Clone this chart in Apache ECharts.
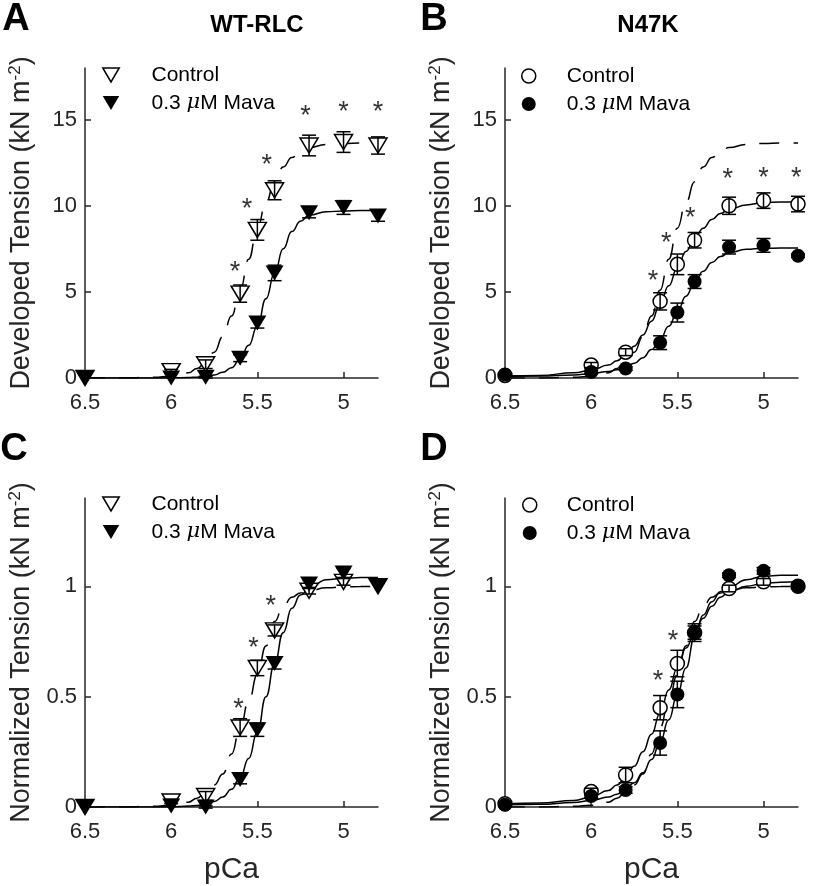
<!DOCTYPE html>
<html>
<head>
<meta charset="utf-8">
<script src="https://cdn.jsdelivr.net/npm/echarts@6/dist/echarts.min.js"></script>
<style>
html, body { margin: 0; padding: 0; background: #fff; }
#main { width: 819px; height: 886px; }
</style>
</head>
<body>
<div id="main"></div>
<script>
// pCa steps of the measurements and of the drawn fit curves
var pCa = [6.5, 6.0, 5.8, 5.6, 5.5, 5.4, 5.2, 5.0, 4.8];
var fitPCa = [6.5, 6.3, 6.1, 6.0, 5.9, 5.85, 5.8, 5.75, 5.7, 5.65, 5.6, 5.55, 5.5, 5.45, 5.4, 5.35, 5.3, 5.25, 5.2, 5.1, 5.0, 4.9, 4.8];
var xTicks = [6.5, 6, 5.5, 5];
var yTicksAbs = [0, 5, 10, 15];
var yTicksNorm = [0, 0.5, 1];

// A: WT-RLC, developed tension
var wtCtrl = [0, 0.4, 0.8, 4.9, 8.6, 10.9, 13.5, 13.7, 13.5];
var wtCtrlErr = [0, 0.1, 0.25, 0.5, 0.6, 0.55, 0.6, 0.6, 0.5];
var wtMava = [0, 0, 0.05, 1.15, 3.2, 6.1, 9.6, 9.9, 9.4];
var wtMavaErr = [0, 0, 0.05, 0.2, 0.3, 0.45, 0.3, 0.4, 0.3];
var fitWtCtrl = [0, 0, 0.04, 0.1, 0.3, 0.55, 0.9, 1.5, 2.4, 3.6, 5.1, 6.9, 8.7, 10.2, 11.4, 12.25, 12.8, 13.15, 13.38, 13.56, 13.62, 13.64, 13.65];
var fitWtMava = [0, 0, 0, 0.01, 0.03, 0.05, 0.09, 0.18, 0.33, 0.6, 1.1, 1.9, 3.0, 4.6, 6.1, 7.5, 8.5, 9.1, 9.45, 9.65, 9.7, 9.72, 9.72];
var starsA = [[5.63, 6.4], [5.56, 10.1], [5.445, 12.6], [5.22, 15.5], [5.0, 15.7], [4.8, 15.7]];

// B: N47K, developed tension
var nkCtrl = [0.15, 0.75, 1.5, 4.45, 6.6, 8.0, 10.0, 10.3, 10.1];
var nkCtrlErr = [0.05, 0.15, 0.2, 0.5, 0.6, 0.45, 0.5, 0.45, 0.45];
var nkMava = [0.2, 0.35, 0.55, 2.05, 3.8, 5.6, 7.6, 7.7, 7.1];
var nkMavaErr = [0.05, 0.1, 0.1, 0.4, 0.55, 0.4, 0.4, 0.4, 0.1];
var fitNkCtrl = [0.12, 0.15, 0.3, 0.45, 0.75, 1.0, 1.35, 1.85, 2.5, 3.3, 4.3, 5.35, 6.4, 7.35, 8.1, 8.7, 9.2, 9.55, 9.8, 10.05, 10.18, 10.22, 10.25];
var fitNkMava = [0.1, 0.12, 0.18, 0.25, 0.38, 0.48, 0.62, 0.85, 1.18, 1.65, 2.25, 3.0, 3.85, 4.75, 5.55, 6.2, 6.7, 7.05, 7.28, 7.47, 7.53, 7.55, 7.55];
var starsB = [[5.641, 5.87], [5.564, 8.1], [5.425, 9.55], [5.207, 11.8], [5.0, 11.9], [4.81, 11.9]];

// C: WT-RLC, normalized tension
var wtCtrlN = [0, 0.025, 0.05, 0.36, 0.63, 0.8, 0.98, 1.02, 1.0];
var wtCtrlNErr = [0, 0.01, 0.02, 0.04, 0.035, 0.025, 0.015, 0.015, 0];
var wtMavaN = [0, 0.005, 0.0, 0.125, 0.35, 0.65, 1.01, 1.06, 1.0];
var wtMavaNErr = [0, 0, 0.005, 0.02, 0.03, 0.025, 0.02, 0.02, 0];
var fitWtCtrlN = [0, 0, 0.003, 0.008, 0.022, 0.04, 0.066, 0.1, 0.15, 0.24, 0.36, 0.48, 0.6, 0.73, 0.84, 0.91, 0.95, 0.97, 0.98, 0.993, 0.997, 0.999, 1.0];
var fitWtMavaN = [0, 0, 0, 0.001, 0.004, 0.007, 0.013, 0.025, 0.045, 0.08, 0.135, 0.22, 0.34, 0.5, 0.65, 0.79, 0.9, 0.96, 0.99, 1.03, 1.036, 1.04, 1.04];
var starsC = [[5.61, 0.463], [5.523, 0.741], [5.422, 0.929]];

// D: N47K, normalized tension
var nkCtrlN = [0.015, 0.07, 0.145, 0.45, 0.65, 0.79, 0.99, 1.02, 1.0];
var nkCtrlNErr = [0, 0.015, 0.035, 0.055, 0.06, 0.03, 0.015, 0.015, 0];
var nkMavaN = [0.01, 0.05, 0.077, 0.29, 0.51, 0.79, 1.05, 1.07, 1.0];
var nkMavaNErr = [0, 0.01, 0.015, 0.055, 0.06, 0.04, 0.01, 0.015, 0];
var fitNkCtrlN = [0.015, 0.018, 0.03, 0.045, 0.075, 0.1, 0.135, 0.185, 0.25, 0.33, 0.425, 0.53, 0.63, 0.72, 0.79, 0.855, 0.91, 0.95, 0.975, 1.0, 1.013, 1.018, 1.02];
var fitNkMavaN = [0.01, 0.012, 0.02, 0.03, 0.045, 0.058, 0.08, 0.11, 0.155, 0.215, 0.295, 0.395, 0.51, 0.63, 0.77, 0.87, 0.93, 0.975, 0.995, 1.03, 1.045, 1.05, 1.05];
var starsD = [[5.612, 0.591], [5.525, 0.771]];

var FONT = 'Liberation Sans, Arial, Helvetica, sans-serif';
var INK = '#262626';
var TRI = 'path://M0,0L20,0L10,17Z';

function pts(ys) { return pCa.map(function (x, i) { return [x, ys[i]]; }); }
function errPts(ys, es) { return pCa.map(function (x, i) { return [x, ys[i], es[i]]; }); }
function fitPts(ys) { return fitPCa.map(function (x, i) { return [x, ys[i]]; }); }

function markers(name, idx, ys, symbol, size, open) {
    return {
        name: name, type: 'scatter', xAxisIndex: idx, yAxisIndex: idx,
        data: pts(ys), symbol: symbol, symbolSize: size, z: open ? 3 : 5,
        itemStyle: open ? { color: '#fff', borderColor: '#000', borderWidth: 1.5, opacity: 1 } : { color: '#000', opacity: 1 },
        emphasis: { disabled: true }
    };
}

function errBars(idx, ys, es, z) {
    return {
        type: 'custom', xAxisIndex: idx, yAxisIndex: idx, z: z, silent: true,
        data: errPts(ys, es), encode: { x: 0, y: 1 },
        renderItem: function (params, api) {
            var x = api.value(0), y = api.value(1), e = api.value(2);
            if (!(e > 0)) return null;
            var hi = api.coord([x, y + e]), lo = api.coord([x, y - e]);
            var w = 7, st = { stroke: '#000', lineWidth: 1.5 };
            return { type: 'group', children: [
                { type: 'line', shape: { x1: hi[0], y1: hi[1], x2: lo[0], y2: lo[1] }, style: st },
                { type: 'line', shape: { x1: hi[0] - w, y1: hi[1], x2: hi[0] + w, y2: hi[1] }, style: st },
                { type: 'line', shape: { x1: lo[0] - w, y1: lo[1], x2: lo[0] + w, y2: lo[1] }, style: st }
            ] };
        }
    };
}

function fitLine(idx, ys, dashed) {
    return {
        type: 'line', xAxisIndex: idx, yAxisIndex: idx, data: fitPts(ys), z: 2,
        smooth: true, smoothMonotone: 'x', showSymbol: false, silent: true,
        lineStyle: { color: '#000', width: 1.5, type: dashed ? [20, 14] : 'solid' }
    };
}

function stars(idx, list) {
    return {
        type: 'scatter', xAxisIndex: idx, yAxisIndex: idx, data: list, z: 6, silent: true,
        symbol: 'circle', symbolSize: 0.1, itemStyle: { color: 'rgba(0,0,0,0)' },
        label: { show: true, position: 'inside', formatter: '*', fontSize: 27, color: '#000', fontFamily: FONT, offset: [0, 5] }
    };
}

function xAxis(idx, named) {
    return {
        type: 'value', gridIndex: idx, min: 4.8, max: 6.5, inverse: true,
        axisLine: { lineStyle: { color: INK, width: 1.5 } },
        axisTick: { inside: true, length: 6, customValues: xTicks, lineStyle: { color: INK, width: 1.5 } },
        axisLabel: { customValues: xTicks, fontSize: 22, margin: 14, color: INK, fontFamily: FONT },
        splitLine: { show: false },
        name: named ? 'pCa' : '', nameLocation: 'middle', nameGap: 48,
        nameTextStyle: { fontSize: 30, color: INK, fontFamily: FONT }
    };
}

function yAxis(idx, max, ticks, name) {
    return {
        type: 'value', gridIndex: idx, min: 0, max: max,
        axisLine: { show: true, lineStyle: { color: INK, width: 1.5 } },
        axisTick: { show: true, inside: true, length: 6, customValues: ticks, lineStyle: { color: INK, width: 1.5 } },
        axisLabel: { customValues: ticks, fontSize: 22, margin: 8, color: INK, fontFamily: FONT },
        splitLine: { show: false },
        name: name + ' (kN m{sup|-2})', nameLocation: 'middle', nameGap: 48, nameRotate: 90,
        nameTextStyle: { fontSize: 27, color: INK, fontFamily: FONT,
            rich: { sup: { fontSize: 17, color: INK, fontFamily: FONT, verticalAlign: 'top', lineHeight: 30 } } }
    };
}

function legendFmt(name) {
    return name.indexOf('ctrl') === 0 ? 'Control' : '0.3 {mu|\u03bc}M Mava';
}

function legend(left, top, names, icon, w, h, pad) {
    return {
        orient: 'vertical', left: left, top: top, itemWidth: w, itemHeight: h, itemGap: 6,
        selectedMode: false, formatter: legendFmt,
        data: [
            { name: names[0], icon: icon, itemStyle: { color: '#fff', borderColor: '#000', borderWidth: 1.5, opacity: 1 } },
            { name: names[1], icon: icon, itemStyle: { color: '#000', borderWidth: 0, opacity: 1 } }
        ],
        textStyle: { fontSize: 21, lineHeight: 22, color: '#000', fontFamily: FONT, padding: [0, 0, 0, pad],
            rich: { mu: { fontSize: 21, fontStyle: 'italic', fontFamily: 'DejaVu Serif, serif', color: '#000' } } }
    };
}

function bigText(txt, x, y, size) {
    return { type: 'text', x: x, y: y,
        style: { text: txt, fontSize: size, fontWeight: 'bold', fontFamily: FONT, fill: '#000',
            textAlign: 'center', textVerticalAlign: 'middle', align: 'center', verticalAlign: 'middle' } };
}

var chart = echarts.init(document.getElementById('main'), null, { renderer: 'canvas' });
chart.setOption({
    backgroundColor: '#fff',
    animation: false,
    grid: [
        { left: 85, top: 68, width: 293, height: 310 },
        { left: 505, top: 68, width: 293, height: 310 },
        { left: 85, top: 498, width: 293, height: 311 },
        { left: 505, top: 498, width: 293, height: 311 }
    ],
    xAxis: [xAxis(0, false), xAxis(1, false), xAxis(2, true), xAxis(3, true)],
    yAxis: [
        yAxis(0, 18, yTicksAbs, 'Developed Tension'),
        yAxis(1, 18, yTicksAbs, 'Developed Tension'),
        yAxis(2, 1.4, yTicksNorm, 'Normalized Tension'),
        yAxis(3, 1.4, yTicksNorm, 'Normalized Tension')
    ],
    legend: [
        legend(97, 59, ['ctrlA', 'mavaA'], TRI, 17, 14, 27),
        legend(516, 60, ['ctrlB', 'mavaB'], 'circle', 14, 14, 26),
        legend(97, 488, ['ctrlC', 'mavaC'], TRI, 17, 14, 27),
        legend(517, 489, ['ctrlD', 'mavaD'], 'circle', 14, 14, 25)
    ],
    graphic: [
        bigText('A', 16, 20, 38), bigText('B', 434, 20, 38),
        bigText('C', 14, 450, 38), bigText('D', 434, 450, 38),
        bigText('WT-RLC', 257, 25, 24), bigText('N47K', 648, 25, 24)
    ],
    series: [
        // A
        fitLine(0, fitWtCtrl, true), fitLine(0, fitWtMava, false),
        markers('ctrlA', 0, wtCtrl, TRI, [18, 15], true),
        errBars(0, wtCtrl, wtCtrlErr, 4), errBars(0, wtMava, wtMavaErr, 4),
        markers('mavaA', 0, wtMava, TRI, [18, 15], false),
        stars(0, starsA),
        // B
        fitLine(1, fitWtCtrl, true), fitLine(1, fitNkCtrl, false), fitLine(1, fitNkMava, false),
        markers('ctrlB', 1, nkCtrl, 'circle', 14, true),
        errBars(1, nkCtrl, nkCtrlErr, 4), errBars(1, nkMava, nkMavaErr, 4),
        markers('mavaB', 1, nkMava, 'circle', 14, false),
        stars(1, starsB),
        // C
        fitLine(2, fitWtCtrlN, true), fitLine(2, fitWtMavaN, false),
        markers('ctrlC', 2, wtCtrlN, TRI, [18, 15], true),
        errBars(2, wtCtrlN, wtCtrlNErr, 4), errBars(2, wtMavaN, wtMavaNErr, 4),
        markers('mavaC', 2, wtMavaN, TRI, [18, 15], false),
        stars(2, starsC),
        // D
        fitLine(3, fitWtCtrlN, true), fitLine(3, fitNkCtrlN, false), fitLine(3, fitNkMavaN, false),
        markers('ctrlD', 3, nkCtrlN, 'circle', 14, true),
        errBars(3, nkCtrlN, nkCtrlNErr, 4), errBars(3, nkMavaN, nkMavaNErr, 4),
        markers('mavaD', 3, nkMavaN, 'circle', 14, false),
        stars(3, starsD)
    ]
});
</script>
</body>
</html>
